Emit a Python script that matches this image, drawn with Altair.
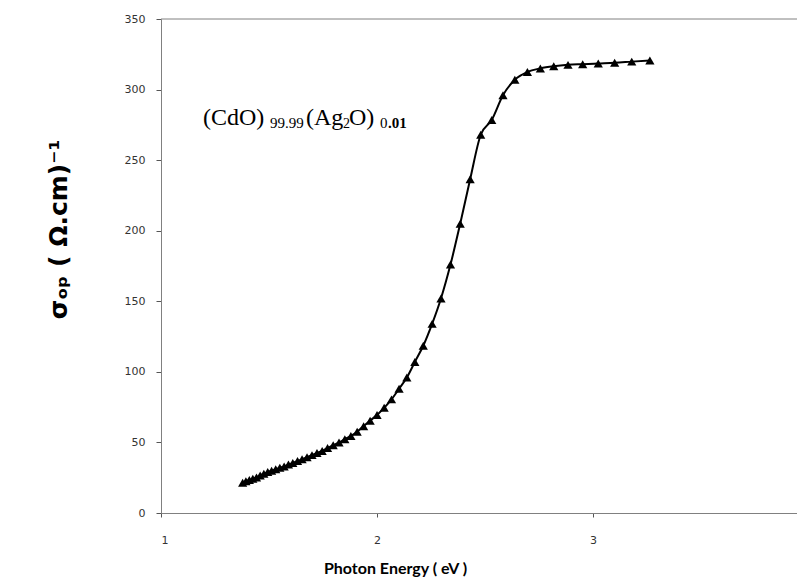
import altair as alt
import pandas as pd

# Photon energy (eV) and optical conductivity (Ohm.cm)^-1
energy = [3.263, 3.179, 3.100, 3.024, 2.952, 2.884, 2.818, 2.756, 2.696, 2.638,
          2.583, 2.531, 2.480, 2.431, 2.385, 2.340, 2.296, 2.255, 2.214, 2.175,
          2.138, 2.102, 2.067, 2.033, 2.000, 1.968, 1.938, 1.908, 1.879, 1.851,
          1.824, 1.797, 1.771, 1.746, 1.722, 1.699, 1.676, 1.653, 1.632, 1.610,
          1.590, 1.570, 1.550, 1.531, 1.512, 1.494, 1.476, 1.459, 1.442, 1.425,
          1.409, 1.393, 1.378]
sigma = [320.6, 319.8, 319.0, 318.5, 318.0, 317.5, 316.5, 315.0, 312.5, 307.0,
         296.0, 278.5, 268.0, 236.5, 205.0, 176.0, 152.0, 134.0, 118.5, 107.0,
         96.0, 88.0, 80.5, 74.5, 69.5, 65.4, 61.5, 57.6, 54.6, 52.3,
         50.0, 48.0, 46.0, 44.0, 42.5, 41.0, 39.5, 38.0, 36.8, 35.5,
         34.3, 33.0, 32.0, 31.0, 30.0, 29.0, 27.8, 26.5, 25.2, 24.2,
         23.3, 22.5, 21.5]
x_ticks = [1, 2, 3]
y_ticks = [0, 50, 100, 150, 200, 250, 300, 350]

df = pd.DataFrame({"E": energy, "S": sigma})

xscale = alt.Scale(domain=[1, 3.944], nice=False, zero=False)
yscale = alt.Scale(domain=[0, 350], nice=False)

xaxis = alt.Axis(values=x_ticks, format="d", title="Photon Energy ( eV )", grid=False,
                 domainColor="#808080", tickColor="#555555", tickSize=4,
                 labelFont="DejaVu Sans", labelFontSize=11, labelColor="#333333",
                 labelPadding=17, titleFont="Lato", titleFontSize=16,
                 titleFontWeight="bold", titleColor="#000000",
                 titleX=234, titleY=63, titleAlign="center", titleBaseline="bottom")
yaxis = alt.Axis(values=y_ticks, title="σₒₚ ( Ω.cm)⁻¹", grid=False,
                 domainColor="#808080", tickColor="#555555", tickSize=5,
                 labelFont="DejaVu Sans", labelFontSize=11, labelColor="#333333",
                 labelPadding=11, titleFont="DejaVu Sans", titleFontSize=25,
                 titleFontWeight="bold", titleColor="#000000",
                 titleX=-103, titleY=210, titleAngle=270,
                 titleAlign="center", titleBaseline="middle")

base = alt.Chart(df)
line = base.mark_line(color="black", strokeWidth=2, interpolate="monotone").encode(
    x=alt.X("E:Q", scale=xscale, axis=xaxis),
    y=alt.Y("S:Q", scale=yscale, axis=yaxis),
)
pts = base.mark_point(shape="triangle-up", filled=True, color="black", size=85, opacity=1).encode(
    x=alt.X("E:Q", scale=xscale),
    y=alt.Y("S:Q", scale=yscale),
)
top = alt.Chart(pd.DataFrame({"v": [350]})).mark_rule(color="#808080", strokeWidth=1).encode(
    y=alt.Y("v:Q", scale=yscale)
)

pieces = [
    ("(CdO)", 42, 106, 24, "normal"),
    ("99.99", 109, 109, 15, "normal"),
    ("(Ag", 145, 106, 24, "normal"),
    ("2", 182, 109, 14, "normal"),
    ("O)", 188, 106, 24, "normal"),
    ("0", 219, 109, 15, "normal"),
    (".01", 227, 109, 15, "bold"),
]
texts = []
for t, px, py, fs, fw in pieces:
    texts.append(
        alt.Chart(pd.DataFrame({"t": [t]})).mark_text(
            font="Liberation Serif", fontSize=fs, fontWeight=fw, color="black",
            align="left", baseline="alphabetic"
        ).encode(x=alt.value(px), y=alt.value(py), text="t:N")
    )

chart = alt.layer(top, line, pts, *texts).properties(
    width=636, height=494,
    autosize=alt.AutoSizeParams(type="none"),
    padding={"left": 153, "top": 11, "right": 0, "bottom": 70},
).configure_view(stroke=None)

chart.save("out.html", embed_options={"renderer": "svg", "actions": False})
